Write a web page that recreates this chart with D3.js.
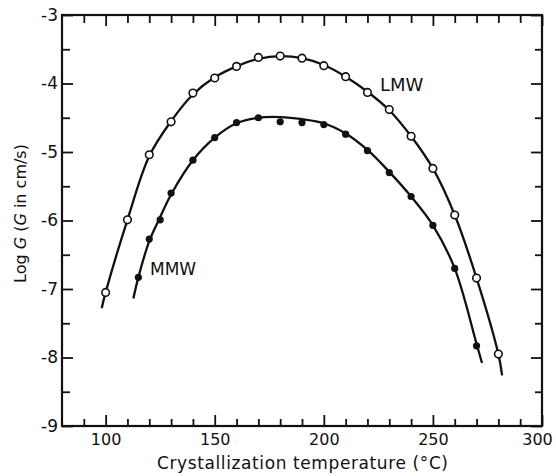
<!DOCTYPE html>
<html>
<head>
<meta charset="utf-8">
<script src="https://cdn.jsdelivr.net/npm/d3@7"></script>
<style>
  body { margin: 0; background: #fff; }
  svg { display: block; }
  text { font-family: "DejaVu Sans", "Liberation Sans", sans-serif; fill: #111; }
</style>
</head>
<body>
<svg id="chart" width="556" height="476"></svg>
<script>
// ---- data ----
const lmwTemp = [100, 110, 120, 130, 140, 150, 160, 170, 180, 190, 200, 210, 220, 230, 240, 250, 260, 270, 280];
const lmwLogG = [-7.05, -5.99, -5.04, -4.56, -4.14, -3.92, -3.75, -3.62, -3.60, -3.63, -3.74, -3.90, -4.13, -4.38, -4.77, -5.24, -5.92, -6.84, -7.95];

const mmwTemp = [115, 120, 125, 130, 140, 150, 160, 170, 180, 190, 200, 210, 220, 230, 240, 250, 260, 270];
const mmwLogG = [-6.83, -6.27, -5.99, -5.60, -5.12, -4.79, -4.57, -4.50, -4.56, -4.57, -4.60, -4.74, -4.98, -5.30, -5.65, -6.07, -6.70, -7.83];

// smooth fitted curves
const lmwCurveTemp = [98.2, 100, 110, 120, 130, 140, 150, 160, 170, 180, 190, 200, 210, 220, 230, 240, 250, 260, 270, 280, 281.7];
const lmwCurveLogG = [-7.28, -7.05, -5.99, -5.06, -4.55, -4.16, -3.91, -3.75, -3.64, -3.60, -3.63, -3.73, -3.90, -4.12, -4.39, -4.77, -5.24, -5.92, -6.84, -7.95, -8.26];

const mmwCurveTemp = [112.7, 115, 120, 125, 130, 140, 150, 160, 170, 180, 190, 200, 210, 220, 230, 240, 250, 260, 270, 272.5];
const mmwCurveLogG = [-7.14, -6.83, -6.30, -5.95, -5.62, -5.12, -4.79, -4.58, -4.50, -4.49, -4.52, -4.58, -4.73, -4.97, -5.29, -5.65, -6.07, -6.70, -7.80, -8.08];

const xMajorTicks = [100, 150, 200, 250, 300];
const xMinorTicks = [90, 110, 120, 130, 140, 160, 170, 180, 190, 210, 220, 230, 240, 260, 270, 280, 290];
const yMajorTicks = [-9, -8, -7, -6, -5, -4, -3];
const yMinorTicks = [-8.5, -7.5, -6.5, -5.5, -4.5, -3.5];

const xLabel = "Crystallization temperature (\u00B0C)";
const seriesLabels = ["LMW", "MMW"];

// ---- layout ----
const svg = d3.select("#chart");
const L = 62, R = 542, T = 15, B = 426;

const x = d3.scaleLinear().domain([80, 300]).range([L, R]);
const y = d3.scaleLinear().domain([-9, -3]).range([B, T]);

const fmt = d => (d < 0 ? "-" + Math.abs(d) : String(d));

function styleAxis(g) {
  g.select(".domain").remove();
  g.selectAll(".tick line").attr("stroke", "#111").attr("stroke-width", 1.8);
}

// bottom
svg.append("g").attr("transform", `translate(0,${B})`)
  .call(d3.axisBottom(x).tickValues(xMajorTicks).tickSize(-11).tickPadding(8).tickFormat(fmt))
  .call(styleAxis)
  .call(g => g.selectAll("text").attr("font-size", 16).attr("fill", "#111")
    .attr("dx", d => (d === 300 ? -5 : 0)));
svg.append("g").attr("transform", `translate(0,${B})`)
  .call(d3.axisBottom(x).tickValues(xMinorTicks).tickSize(-7).tickFormat(""))
  .call(styleAxis);
// top
svg.append("g").attr("transform", `translate(0,${T})`)
  .call(d3.axisTop(x).tickValues(xMajorTicks).tickSize(-11).tickFormat(""))
  .call(styleAxis);
svg.append("g").attr("transform", `translate(0,${T})`)
  .call(d3.axisTop(x).tickValues(xMinorTicks).tickSize(-8).tickFormat(""))
  .call(styleAxis);
// left
svg.append("g").attr("transform", `translate(${L},0)`)
  .call(d3.axisLeft(y).tickValues(yMajorTicks).tickSize(-11).tickPadding(4).tickFormat(fmt))
  .call(styleAxis)
  .call(g => g.selectAll("text").attr("font-size", 17).attr("fill", "#111"));
svg.append("g").attr("transform", `translate(${L},0)`)
  .call(d3.axisLeft(y).tickValues(yMinorTicks).tickSize(-8).tickFormat(""))
  .call(styleAxis);
// right
svg.append("g").attr("transform", `translate(${R},0)`)
  .call(d3.axisRight(y).tickValues(yMajorTicks).tickSize(-11).tickFormat(""))
  .call(styleAxis);
svg.append("g").attr("transform", `translate(${R},0)`)
  .call(d3.axisRight(y).tickValues(yMinorTicks).tickSize(-7).tickFormat(""))
  .call(styleAxis);

// frame
svg.append("rect").attr("x", L).attr("y", T).attr("width", R - L).attr("height", B - T)
  .attr("fill", "none").attr("stroke", "#111").attr("stroke-width", 2.2);

// curves
const line = d3.line().x(d => x(d[0])).y(d => y(d[1])).curve(d3.curveCatmullRom.alpha(0.5));
const lmwCurve = lmwCurveTemp.map((t, i) => [t, lmwCurveLogG[i]]);
const mmwCurve = mmwCurveTemp.map((t, i) => [t, mmwCurveLogG[i]]);
svg.append("path").attr("d", line(lmwCurve)).attr("fill", "none").attr("stroke", "#111").attr("stroke-width", 2.3);
svg.append("path").attr("d", line(mmwCurve)).attr("fill", "none").attr("stroke", "#111").attr("stroke-width", 2.3);

// points
svg.append("g").selectAll("circle").data(lmwTemp.map((t, i) => [t, lmwLogG[i]])).join("circle")
  .attr("cx", d => x(d[0])).attr("cy", d => y(d[1])).attr("r", 3.8)
  .attr("fill", "#fff").attr("stroke", "#111").attr("stroke-width", 1.6);
svg.append("g").selectAll("circle").data(mmwTemp.map((t, i) => [t, mmwLogG[i]])).join("circle")
  .attr("cx", d => x(d[0])).attr("cy", d => y(d[1])).attr("r", 3.6)
  .attr("fill", "#111");

// series labels
svg.append("text").attr("x", 380).attr("y", 91).attr("font-size", 18).text(seriesLabels[0]);
svg.append("text").attr("x", 150).attr("y", 275).attr("font-size", 17).text(seriesLabels[1]);

// axis titles
svg.append("text").attr("x", 157).attr("y", 469)
  .attr("font-size", 17).attr("textLength", 291).attr("lengthAdjust", "spacing").text(xLabel);

const yt = svg.append("text").attr("transform", `translate(26,${(T + B) / 2 - 7}) rotate(-90)`)
  .attr("text-anchor", "middle").attr("font-size", 16);
yt.append("tspan").text("Log ");
yt.append("tspan").attr("font-style", "italic").text("G");
yt.append("tspan").text(" (");
yt.append("tspan").attr("font-style", "italic").text("G");
yt.append("tspan").text(" in cm/s)");
</script>
</body>
</html>
